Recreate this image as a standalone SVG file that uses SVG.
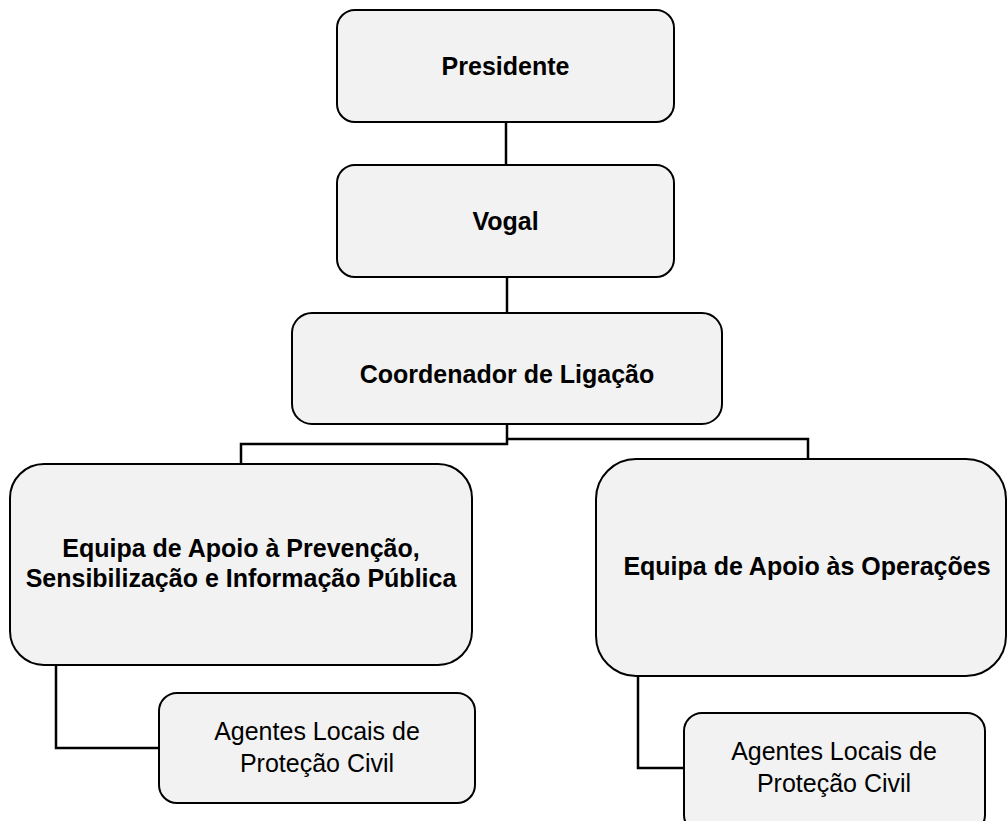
<svg xmlns="http://www.w3.org/2000/svg" width="1008" height="821" viewBox="0 0 1008 821">
<style>
.box{fill:#f2f2f2;stroke:#000;stroke-width:2}
.conn{fill:none;stroke:#000;stroke-width:2.5}
.b{font-family:"Liberation Sans",Arial,sans-serif;font-weight:bold;font-size:25px;fill:#000;text-anchor:middle}
.r{font-family:"Liberation Sans",Arial,sans-serif;font-size:25px;fill:#000;text-anchor:middle}
</style>
<rect width="1008" height="821" fill="#fff"/>
<g id="connectors">
<path class="conn" d="M506 122 V165"/>
<path class="conn" d="M507 277 V313"/>
<path class="conn" d="M507 424 V444 H241 V464"/>
<path class="conn" d="M507 439 H808 V459"/>
<path class="conn" d="M56 665 V748 H159"/>
<path class="conn" d="M638 676 V768 H684"/>
</g>
<g id="presidente">
<rect class="box" x="337" y="10" width="337" height="112" rx="18"/>
<text class="b" x="505.5" y="75">Presidente</text>
</g>
<g id="vogal">
<rect class="box" x="337" y="165" width="337" height="112" rx="18"/>
<text class="b" x="505.5" y="230">Vogal</text>
</g>
<g id="coordenador">
<rect class="box" x="292" y="313" width="430" height="111" rx="20"/>
<text class="b" x="507" y="383">Coordenador de Ligação</text>
</g>
<g id="equipa-prevencao">
<rect class="box" x="10" y="464" width="462" height="201" rx="34"/>
<text class="b" x="241" y="557">Equipa de Apoio à Prevenção,</text>
<text class="b" x="241" y="587">Sensibilização e Informação Pública</text>
</g>
<g id="equipa-operacoes">
<rect class="box" x="596" y="459" width="410" height="217" rx="40"/>
<text class="b" x="807" y="575">Equipa de Apoio às Operações</text>
</g>
<g id="agentes-1">
<rect class="box" x="159" y="693" width="316" height="110" rx="18"/>
<text class="r" x="317" y="740">Agentes Locais de</text>
<text class="r" x="317" y="772">Proteção Civil</text>
</g>
<g id="agentes-2">
<rect class="box" x="684" y="713" width="301" height="120" rx="18"/>
<text class="r" x="834" y="760">Agentes Locais de</text>
<text class="r" x="834" y="792">Proteção Civil</text>
</g>
</svg>
